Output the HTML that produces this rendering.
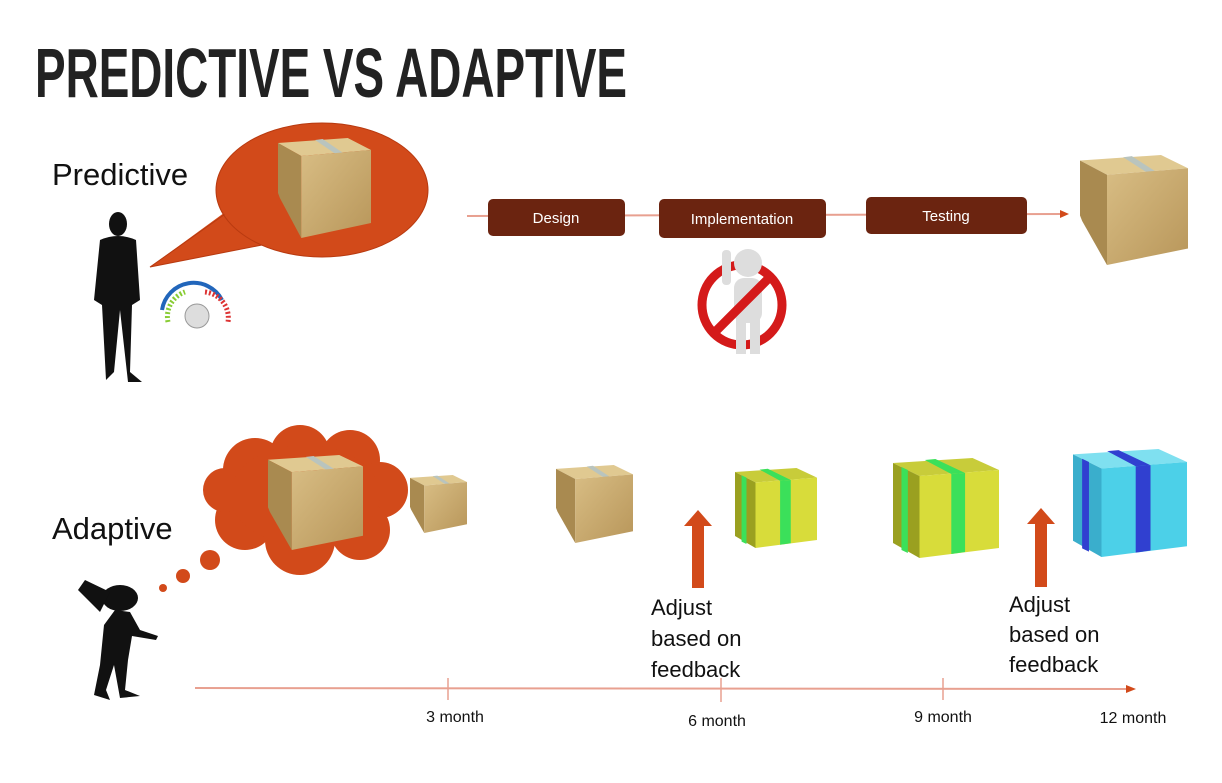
<!DOCTYPE html>
<html><head><meta charset="utf-8"><style>
html,body{margin:0;padding:0;background:#fff;}
svg{display:block;}
text{font-family:"Liberation Sans",Arial,sans-serif;}
</style></head><body>
<svg width="1222" height="783" viewBox="0 0 1222 783" xmlns="http://www.w3.org/2000/svg">
<defs>
<linearGradient id="fr" x1="0" y1="0" x2="1" y2="1"><stop offset="0" stop-color="#d8bd84"/><stop offset="1" stop-color="#b8965a"/></linearGradient>
<g id="cube">
<polygon points="0,5 75,0 100,12 25,18" fill="#e0c991"/>
<polygon points="40,2 48,1 70,15 62,16" fill="#b9c4be"/>
<polygon points="0,5 25,18 25,100 2,60 0,55" fill="#a98a50"/>
<polygon points="25,18 100,12 100,85 25,100" fill="url(#fr)"/>
</g>
<g id="gcube">
<polygon points="0,5 75,0 100,12 25,18" fill="#c8cc3a"/>
<polygon points="0,5 25,18 25,100 0,85" fill="#9aa020"/>
<polygon points="25,18 100,12 100,90 25,100" fill="#d8dc3a"/>
<polygon points="8,9 14,12 14,95 8,92" fill="#3be05a"/>
<polygon points="55,16 68,15 68,94 55,96" fill="#3be05a"/>
<polygon points="30,2 40,1 68,15 55,16" fill="#3be05a"/>
</g>
<g id="bcube">
<polygon points="0,5 75,0 100,12 25,18" fill="#7fe0f0"/>
<polygon points="0,5 25,18 25,100 0,85" fill="#3aaecc"/>
<polygon points="25,18 100,12 100,90 25,100" fill="#4cd0e8"/>
<polygon points="8,9 14,12 14,95 8,92" fill="#3040d0"/>
<polygon points="55,16 68,15 68,94 55,96" fill="#3040d0"/>
<polygon points="30,2 40,1 68,15 55,16" fill="#3040d0"/>
</g>
</defs>

<text x="35" y="97" font-family="Liberation Serif" font-weight="bold" font-size="70" textLength="592" lengthAdjust="spacingAndGlyphs" fill="#222">PREDICTIVE VS ADAPTIVE</text>

<text x="52" y="185" font-size="31" fill="#111">Predictive</text>
<!-- speech bubble -->
<path d="M228,210 L150,267 L262,245 Z" fill="#d24a1a"/>
<ellipse cx="322" cy="190" rx="106" ry="67" fill="#d24a1a" stroke="#b83a10"/>
<path d="M228,212 L150,267 L262,245" fill="none" stroke="#b83a10"/>
<ellipse cx="322" cy="190" rx="105" ry="66" fill="#d24a1a"/>
<use href="#cube" transform="translate(278,138) scale(0.93,1)"/>

<!-- person -->
<g fill="#111">
<ellipse cx="118" cy="224" rx="9" ry="12"/>
<path d="M100,240 Q118,232 136,240 L140,300 L132,305 L130,372 L142,382 L128,382 L120,310 L114,372 L106,380 L102,305 L94,300 Z"/>
</g>
<!-- gauge -->
<path d="M162,310 A32,32 0 0 1 222,300" fill="none" stroke="#2266bb" stroke-width="4"/>
<path d="M205,292 A26,26 0 0 1 228,322" fill="none" stroke="#d33" stroke-width="5" stroke-dasharray="2 2"/>
<path d="M168,322 A26,26 0 0 1 185,292" fill="none" stroke="#8c3" stroke-width="5" stroke-dasharray="2 2"/>
<circle cx="197" cy="316" r="12" fill="#ddd" stroke="#999"/>

<!-- process -->
<line x1="467" y1="216" x2="1063" y2="214" stroke="#e8a090" stroke-width="2"/>
<polygon points="1069,214 1060,210 1060,218" fill="#d24a1a"/>
<rect x="488" y="199" width="137" height="37" rx="5" fill="#6b2410"/>
<text x="556" y="223" font-size="15" fill="#fff" text-anchor="middle">Design</text>
<rect x="659" y="199" width="167" height="39" rx="5" fill="#6b2410"/>
<text x="742" y="224" font-size="15" fill="#fff" text-anchor="middle">Implementation</text>
<rect x="866" y="197" width="161" height="37" rx="5" fill="#6b2410"/>
<text x="946" y="221" font-size="15" fill="#fff" text-anchor="middle">Testing</text>
<use href="#cube" transform="translate(1080,155) scale(1.08,1.1)"/>

<!-- stop figure -->
<circle cx="742" cy="305" r="40" fill="none" stroke="#d41a1a" stroke-width="9"/>
<g fill="#ddd"><circle cx="748" cy="263" r="14"/><rect x="734" y="278" width="28" height="45" rx="10"/><rect x="736" y="318" width="10" height="36"/><rect x="750" y="318" width="10" height="36"/><rect x="722" y="250" width="9" height="35" rx="4"/></g>
<line x1="714" y1="333" x2="770" y2="277" stroke="#d41a1a" stroke-width="9"/>

<!-- adaptive -->
<text x="52" y="539" font-size="31" fill="#111">Adaptive</text>
<g fill="#d24a1a">
<circle cx="255" cy="470" r="32"/><circle cx="300" cy="455" r="30"/><circle cx="350" cy="460" r="30"/><circle cx="380" cy="490" r="28"/><circle cx="360" cy="530" r="30"/><circle cx="300" cy="540" r="35"/><circle cx="245" cy="520" r="30"/><circle cx="225" cy="490" r="22"/><ellipse cx="305" cy="495" rx="75" ry="50"/>
<circle cx="210" cy="560" r="10"/><circle cx="183" cy="576" r="7"/><circle cx="163" cy="588" r="4"/>
</g>
<use href="#cube" transform="translate(268,455) scale(0.95,0.95)"/>
<use href="#cube" transform="translate(410,475) scale(0.57,0.58)"/>
<use href="#cube" transform="translate(556,465) scale(0.77,0.78)"/>
<use href="#gcube" transform="translate(735,468) scale(0.82,0.8)"/>
<use href="#gcube" transform="translate(893,458) scale(1.06,1)"/>
<use href="#bcube" transform="translate(1073,449) scale(1.14,1.08)"/>

<!-- thinker -->
<g fill="#111">
<ellipse cx="120" cy="598" rx="18" ry="13"/>
<path d="M115,610 L130,612 L140,630 L158,636 L156,640 L132,636 L128,660 L125,690 L140,696 L120,698 L114,665 L106,690 L110,700 L94,695 L100,665 L104,625 Z"/>
<path d="M110,592 L85,580 L78,590 L100,612 Z"/>
</g>

<!-- arrows -->
<rect x="692" y="524" width="12" height="64" fill="#d24a1a"/>
<polygon points="684,526 698,510 712,526" fill="#d24a1a"/>
<rect x="1035" y="522" width="12" height="65" fill="#d24a1a"/>
<polygon points="1027,524 1041,508 1055,524" fill="#d24a1a"/>
<g font-size="22" fill="#111">
<text x="651" y="615">Adjust</text><text x="651" y="646">based on</text><text x="651" y="677">feedback</text>
<text x="1009" y="612">Adjust</text><text x="1009" y="642">based on</text><text x="1009" y="672">feedback</text>
</g>

<!-- timeline -->
<line x1="195" y1="688" x2="1128" y2="689" stroke="#e8a090" stroke-width="2"/>
<polygon points="1136,689 1126,685 1126,693" fill="#d24a1a"/>
<g stroke="#e8a090" stroke-width="1.5"><line x1="448" y1="678" x2="448" y2="700"/><line x1="721" y1="678" x2="721" y2="702"/><line x1="943" y1="678" x2="943" y2="700"/></g>
<g font-size="16" fill="#111" text-anchor="middle">
<text x="455" y="722">3 month</text><text x="717" y="726">6 month</text><text x="943" y="722">9 month</text><text x="1133" y="723">12 month</text>
</g>
</svg>
</body></html>
